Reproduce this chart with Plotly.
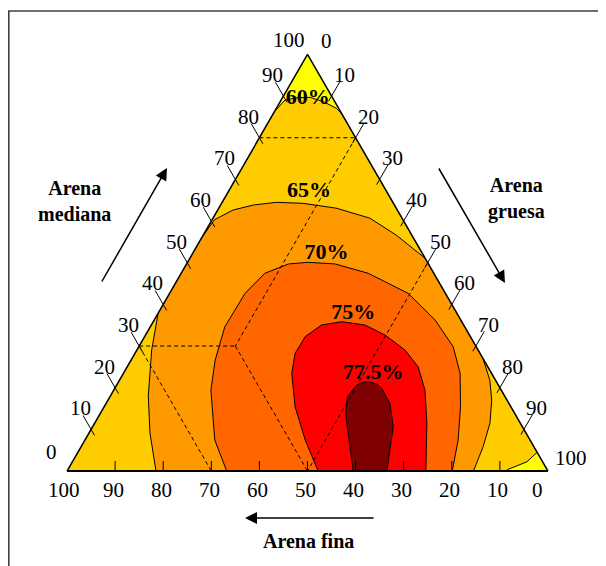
import plotly.graph_objects as go

# ---------------- data (ternary %, medium = Arena mediana, coarse = Arena gruesa, fine = 100 - medium - coarse)
tick_values = [0, 10, 20, 30, 40, 50, 60, 70, 80, 90, 100]
tick_marks = [10, 20, 30, 40, 50, 60, 70, 80, 90]

# filled regions (value >= level); outline points as medium / coarse
c60_medium = [0, 86.3, 89.05, 89.6, 89.7, 88.65, 87.05, 85.7, 4.5, 2.2, 0.4, 0, 0]
c60_coarse = [0, 0, 0.8, 3.0, 5.7, 9.0, 12.5, 14.3, 95.5, 94.5, 91.5, 91.2, 0]

c65_medium = [55.9, 60.3, 62.65, 63.85, 64.5, 64.26, 63.1, 60.7, 56.65, 51.06, 27.05,
              21.8, 17.0, 11.45, 5.83, 0, 0, 9.1, 18.0, 29.1, 37.9, 55.9]
c65_coarse = [0, 0.5, 3.2, 6.8, 11.3, 16.9, 24.4, 32.6, 40.1, 48.94, 72.95,
              77.0, 79.8, 82.2, 83.6, 84.5, 18.5, 12.7, 7.9, 3.06, 0, 0]

c70_medium = [0, 7.44, 19.44, 26.6, 34.6, 42.65, 47.46, 49.7, 50.1, 49.7, 47.46, 42.65,
              36.25, 29.8, 23.45, 15.43, 7.44, 0, 0]
c70_coarse = [33.2, 27.0, 20.2, 17.5, 15.5, 15.7, 17.4, 21.2, 25.1, 30.9, 38.9, 49.6,
              58.4, 65.4, 70.0, 74.1, 77.6, 80.1, 33.2]

c75_medium = [0, 7.44, 15.43, 23.45, 28.25, 32.24, 35.05, 35.84, 35.05, 32.65, 29.0,
              25.0, 19.44, 11.45, 0, 0]
c75_coarse = [52.2, 45.8, 39.7, 35.0, 33.3, 33.4, 35.4, 39.2, 44.4, 49.8, 55.8,
              60.5, 64.7, 69.1, 74.6, 52.2]

c775_medium = [0, 7.44, 13.85, 17.83, 20.24, 21.05, 21.44, 20.9, 19.85, 16.25, 10.63, 5.04, 0, 0]
c775_coarse = [59.5, 54.9, 51.0, 49.4, 49.8, 50.4, 51.9, 53.9, 55.5, 59.0, 62.5, 64.6, 66.5, 59.5]

region_colors = ["#FFCC00", "#FF9900", "#FF6600", "#FF0000", "#7F0000"]
background_color = "#FFFF00"

# contour labels
label_text = ["60%", "65%", "70%", "75%", "77.5%"]
label_medium = [89.5, 67.0, 52.3, 37.85, 23.45]
label_coarse = [5.3, 16.8, 27.8, 40.6, 51.95]

# dashed class boundaries (segments separated by None), medium / coarse
dash_medium = [80, 80, None, 80, 30, None, 30, 0, None, 30, 30, None, 30, 0, None, 50, 0]
dash_coarse = [0, 20, None, 20, 20, None, 20, 50, None, 0, 20, None, 0, 30, None, 50, 50]


def fine(med, coa):
    return [None if (m is None or c is None) else 100 - m - c for m, c in zip(med, coa)]


# ---------------- geometry / layout helpers
PAGE_OFF = 8            # browser body margin
W, H = 598, 558         # figure size (fits the 606x566 window after the body margin)
FONT = "Liberation Serif, Times New Roman, serif"
TRI_L, TRI_R, TRI_B = 67, 548, 471          # triangle position in window pixels
TRI_W = TRI_R - TRI_L
TRI_H = TRI_W * 3 ** 0.5 / 2


def px(X):
    return (X - PAGE_OFF) / W


def py(Y):
    return 1 - (Y - PAGE_OFF) / H


def tern_screen(m, c):
    return (TRI_L + m / 100 * TRI_W / 2 + c / 100 * TRI_W, TRI_B - m / 100 * TRI_H)


fig = go.Figure()

regions = [(c60_medium, c60_coarse), (c65_medium, c65_coarse), (c70_medium, c70_coarse),
           (c75_medium, c75_coarse), (c775_medium, c775_coarse)]
for (med, coa), col in zip(regions, region_colors):
    fig.add_trace(go.Scatterternary(
        a=med, b=fine(med, coa), c=coa, mode="lines", fill="toself", fillcolor=col,
        line=dict(color="black", width=1), hoverinfo="skip", showlegend=False))

fig.add_trace(go.Scatterternary(
    a=dash_medium, b=fine(dash_medium, dash_coarse), c=dash_coarse, mode="lines",
    line=dict(color="black", width=1, dash="4px,3px"), connectgaps=False,
    hoverinfo="skip", showlegend=False))

fig.add_trace(go.Scatterternary(
    a=label_medium, b=fine(label_medium, label_coarse), c=label_coarse, mode="text",
    text=["<b>%s</b>" % t for t in label_text], textposition="middle center",
    textfont=dict(family=FONT, size=22, color="black"), hoverinfo="skip", showlegend=False))

# ---------------- ticks (crossing the edges) and tick labels
S3 = 3 ** 0.5 / 2
shapes = []
for v in tick_marks:
    x, y = tern_screen(v, 0)                       # left edge (Arena mediana)
    shapes.append(dict(type="line", xref="paper", yref="paper",
                       x0=px(x - 16 * 0.5), y0=py(y - 16 * S3), x1=px(x + 7 * 0.5), y1=py(y + 7 * S3),
                       line=dict(color="black", width=1)))
    x, y = tern_screen(100 - v, v)                 # right edge (Arena gruesa)
    shapes.append(dict(type="line", xref="paper", yref="paper",
                       x0=px(x + 17 * 0.5), y0=py(y - 17 * S3), x1=px(x - 6 * 0.5), y1=py(y + 6 * S3),
                       line=dict(color="black", width=1)))
    x, y = tern_screen(0, 100 - v)                 # bottom edge (Arena fina)
    shapes.append(dict(type="line", xref="paper", yref="paper",
                       x0=px(x), y0=py(y), x1=px(x), y1=py(y - 10),
                       line=dict(color="black", width=1)))

# outer frame
shapes.append(dict(type="rect", xref="paper", yref="paper", x0=px(8.8), x1=1.05, y0=-0.05, y1=py(11),
                   line=dict(color="#404040", width=1.6), fillcolor="rgba(0,0,0,0)", layer="above"))

# label placement (style): default offsets and corner adjustments, in pixels
corner_shift = {("L", 0): (-10, 2), ("L", 100): (-3, 7),
                ("R", 0): (11, 8), ("R", 100): (5, 8),
                ("B", 0): (-9, 0), ("B", 100): (-1, 0)}

tick_font = dict(family=FONT, size=21, color="black")
annotations = []
for v in tick_values:
    x, y = tern_screen(v, 0)
    dx, dy = corner_shift.get(("L", v), (0, 0))
    annotations.append(dict(text=str(v), x=px(x + 1 + dx), y=py(y - 21 + dy), xanchor="right"))
    x, y = tern_screen(100 - v, v)
    dx, dy = corner_shift.get(("R", v), (0, 0))
    annotations.append(dict(text=str(v), x=px(x + 1 + dx), y=py(y - 21 + dy), xanchor="left"))
    x, y = tern_screen(0, 100 - v)
    dx, dy = corner_shift.get(("B", v), (0, 0))
    annotations.append(dict(text=str(v), x=px(x - 2 + dx), y=py(y + 19 + dy), xanchor="center"))
for a in annotations:
    a.update(xref="paper", yref="paper", showarrow=False, yanchor="middle", font=tick_font,
             borderpad=0)

title_font = dict(family=FONT, size=20, color="black")
titles = [
    dict(text="<b>Arena<br>mediana</b>", x=px(74), y=py(201), font=title_font, align="center"),
    dict(text="<b>Arena<br>gruesa</b>", x=px(516), y=py(198), font=title_font, align="center"),
    dict(text="<b>Arena fina</b>", x=px(308), y=py(541), font=title_font),
]
for a in titles:
    a.update(xref="paper", yref="paper", showarrow=False, xanchor="center", yanchor="middle")
annotations += titles

arrow = dict(text="", xref="paper", yref="paper", showarrow=True, arrowhead=2, arrowsize=1.6,
             arrowwidth=1.5, arrowcolor="black", standoff=0)
annotations += [
    dict(arrow, x=px(167), y=py(168), ax=-66, ay=115),
    dict(arrow, x=px(505), y=py(283), ax=-67, ay=-116),
    dict(arrow, x=px(245), y=py(518), ax=130, ay=0),
]

axis_style = dict(min=0, showgrid=False, ticks="", showticklabels=False,
                  linecolor="black", linewidth=1.5, title=dict(text=""))

fig.update_layout(
    width=W, height=H, margin=dict(l=0, r=0, t=0, b=0),
    paper_bgcolor="white", plot_bgcolor="white", showlegend=False,
    ternary=dict(
        sum=100, bgcolor=background_color,
        domain=dict(x=[px(TRI_L), px(TRI_R)], y=[py(TRI_B), py(TRI_B - TRI_H)]),
        aaxis=axis_style, baxis=dict(axis_style, linewidth=2), caxis=axis_style),
    font=dict(family=FONT, color="black"),
    annotations=annotations,
    shapes=shapes,
)

fig.write_html("out.html")
